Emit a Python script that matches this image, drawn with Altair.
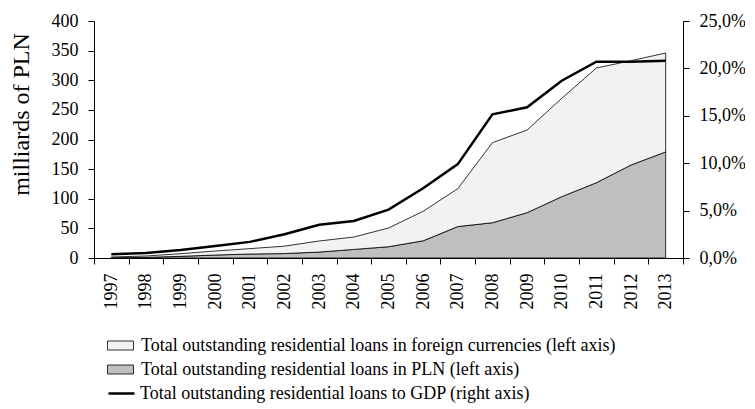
import altair as alt
import pandas as pd

years = list(range(1997, 2014))
pln = [0.5, 1.1, 2.8, 5.0, 6.7, 7.5, 10.0, 14.5, 19.0, 29.0, 53.0, 59.5, 76.5, 103.5, 127.0, 157.0, 179.0]
foreign = [1.2, 2.3, 4.5, 6.8, 9.1, 12.5, 18.7, 20.9, 31.6, 49.8, 64.0, 135.2, 139.5, 166.0, 193.7, 176.0, 167.0]
gdp_ratio = [0.0039, 0.0053, 0.0084, 0.0127, 0.017, 0.025, 0.035, 0.039, 0.051, 0.0735, 0.099,
             0.1515, 0.159, 0.187, 0.207, 0.207, 0.208]

lab_foreign = "Total outstanding residential loans in foreign currencies (left axis)"
lab_pln = "Total outstanding residential loans in PLN (left axis)"
lab_gdp = "Total outstanding residential loans to GDP (right axis)"

rows = []
for y, p, f in zip(years, pln, foreign):
    rows.append({"year": str(y), "series": lab_pln, "value": p, "ord": 0})
    rows.append({"year": str(y), "series": lab_foreign, "value": f, "ord": 1})
df_area = pd.DataFrame(rows)
df_line = pd.DataFrame({"year": [str(y) for y in years], "ratio": gdp_ratio, "series": lab_gdp})

FONT = "Liberation Serif"

x_enc = alt.X(
    "year:O",
    bandPosition=0.5,
    scale=alt.Scale(type="band", paddingInner=0, paddingOuter=0),
    axis=alt.Axis(
        title=None, labelAngle=-90, labelAlign="right", labelBaseline="middle",
        tickBand="extent", tickSize=6, labelPadding=9, labelFontSize=18,
    ),
)

areas = alt.Chart(df_area).mark_area(stroke="black", strokeWidth=0.8, interpolate="linear").encode(
    x=x_enc,
    y=alt.Y(
        "value:Q", stack="zero",
        scale=alt.Scale(domain=[0, 400], nice=False),
        axis=alt.Axis(
            title="milliards of PLN", values=[0, 50, 100, 150, 200, 250, 300, 350, 400],
            tickSize=6, labelPadding=10, labelFontSize=18,
            titleFontSize=24, titleFontWeight="normal", titlePadding=18, titleY=93,
        ),
    ),
    fill=alt.Fill(
        "series:N",
        scale=alt.Scale(domain=[lab_foreign, lab_pln], range=["#f2f2f2", "#bfbfbf"]),
        legend=alt.Legend(
            title=None, orient="none", legendX=17, legendY=315, direction="vertical",
            symbolType="M-1.45,-0.5H1.45V0.5H-1.45Z", symbolSize=322,
            symbolStrokeColor="black", symbolStrokeWidth=0.8, symbolOpacity=1,
            labelFontSize=18, labelFont=FONT, labelColor="black", labelOffset=11,
            rowPadding=5, padding=0, labelLimit=700,
        ),
    ),
    order=alt.Order("ord:Q"),
)

line = alt.Chart(df_line).mark_line(strokeWidth=2.5, interpolate="linear").encode(
    x=x_enc,
    y=alt.Y(
        "ratio:Q",
        scale=alt.Scale(domain=[0, 0.25], nice=False),
        axis=alt.Axis(
            orient="right", title=None, values=[0, 0.05, 0.1, 0.15, 0.2, 0.25],
            labelExpr="replace(format(datum.value, '.1%'), '.', ',')",
            tickSize=6, labelPadding=10, labelFontSize=18,
        ),
    ),
    stroke=alt.Stroke(
        "series:N",
        scale=alt.Scale(domain=[lab_gdp], range=["black"]),
        legend=alt.Legend(
            title=None, orient="none", legendX=13, legendY=358,
            symbolType="stroke", symbolSize=676, symbolStrokeWidth=2.5,
            labelFontSize=18, labelFont=FONT, labelColor="black", labelOffset=4,
            padding=0, labelLimit=700,
        ),
    ),
)

chart = alt.layer(areas, line).resolve_scale(y="independent", stroke="independent", fill="independent").properties(
    width=589, height=237,
    autosize=alt.AutoSizeParams(type="none"),
    padding={"left": 86, "top": 13, "right": 62, "bottom": 147},
).configure_axis(
    labelFont=FONT, titleFont=FONT, labelColor="black", titleColor="black",
    domainColor="black", tickColor="black", grid=False, domainWidth=1, tickWidth=1,
).configure_view(stroke=None)

chart.save("out.html", embed_options={"renderer": "svg", "actions": False})
